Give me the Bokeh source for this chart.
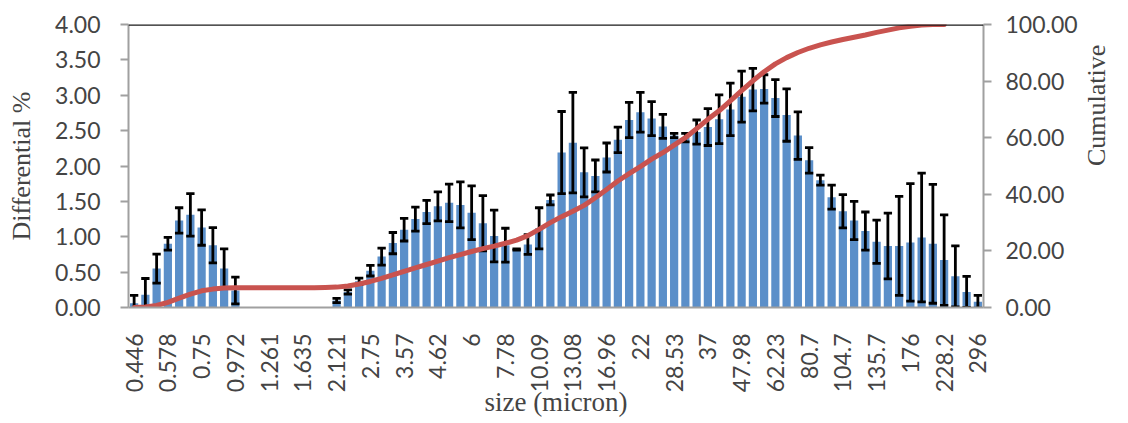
import math
from bokeh.plotting import figure
from bokeh.models import Range1d, LinearAxis, FixedTicker, NumeralTickFormatter, Span
from bokeh.embed import file_html
from bokeh.resources import INLINE

nan = float("nan")

sizes = ["0.446", "0.486", "0.53", "0.578", "0.63", "0.688", "0.75", "0.818", "0.891", "0.972",
         "1.06", "1.156", "1.261", "1.375", "1.499", "1.635", "1.783", "1.945", "2.121", "2.312",
         "2.523", "2.75", "3", "3.27", "3.57", "3.889", "4.241", "4.62", "5.04", "5.5",
         "6", "6.54", "7.13", "7.78", "8.48", "9.25", "10.09", "11", "12", "13.08",
         "14.27", "15.56", "16.96", "18.5", "20.17", "22", "23.99", "26.16", "28.53", "31.11",
         "33.93", "37", "40.35", "44", "47.98", "52.33", "57.06", "62.23", "67.86", "74",
         "80.7", "88", "95.96", "104.7", "114.1", "124.5", "135.7", "148", "161.4", "176",
         "191.9", "209.3", "228.2", "248.9", "271.4", "296"]

differential = [0.06, 0.18, 0.55, 0.90, 1.23, 1.31, 1.13, 0.88, 0.55, 0.24,
                nan, nan, nan, nan, nan, nan, nan, nan,
                0.10, 0.22, 0.37, 0.52, 0.72, 0.91, 1.10, 1.25,
                1.35, 1.43, 1.48, 1.45, 1.34, 1.19, 1.01, 0.88, 0.82, 0.89,
                1.12, 1.52, 2.19, 2.33, 1.91, 1.86, 2.12, 2.37, 2.65, 2.76,
                2.67, 2.56, 2.43, 2.40, 2.48, 2.55, 2.66, 2.80, 2.98, 3.08,
                3.09, 2.96, 2.72, 2.43, 2.08, 1.80, 1.56, 1.36, 1.23, 1.08,
                0.93, 0.87, 0.87, 0.92, 0.99, 0.90, 0.67, 0.44, 0.22, 0.08]

error = [0.11, 0.23, 0.205, 0.09, 0.18, 0.30, 0.25, 0.25, 0.28, 0.19,
         nan, nan, nan, nan, nan, nan, nan, nan,
         0.03, 0.03, 0.045, 0.075, 0.12, 0.15, 0.16, 0.17,
         0.165, 0.205, 0.265, 0.325, 0.38, 0.39, 0.365, 0.24, 0.01, 0.14,
         0.29, 0.07, 0.58, 0.71, 0.345, 0.225, 0.205, 0.18, 0.25, 0.28,
         0.24, 0.17, 0.03, 0.06, 0.17, 0.26, 0.345, 0.37, 0.36, 0.30,
         0.20, 0.26, 0.37, 0.335, 0.18, 0.07, 0.17, 0.235, 0.27, 0.27,
         0.305, 0.465, 0.70, 0.83, 0.91, 0.84, 0.64, 0.43, 0.22, 0.09]

cumulative = [0.0, 0.2, 0.7, 1.8, 3.3, 4.7, 5.9, 6.5, 6.9, 7.0,
              7.0, 7.0, 7.0, 7.0, 7.0, 7.0, 7.0, 7.1,
              7.2, 7.6, 8.3, 9.2, 10.3, 11.5, 12.8, 14.0,
              15.2, 16.4, 17.6, 18.7, 19.8, 20.8, 21.7, 22.7, 23.8, 25.4,
              27.6, 30.0, 32.1, 34.0, 36.1, 38.8, 41.7, 44.7, 47.3, 49.8,
              52.4, 54.7, 57.4, 60.0, 63.2, 66.5, 69.5, 73.0, 76.6, 80.1,
              83.3, 86.1, 88.3, 90.1, 91.6, 92.8, 93.8, 94.7, 95.5, 96.3,
              97.2, 98.0, 98.8, 99.4, 99.8, 100.0, 100.0, nan, nan, nan]

left_ticks = [0, 0.5, 1, 1.5, 2, 2.5, 3, 3.5, 4]
right_ticks = [0, 20, 40, 60, 80, 100]

idx = list(range(len(sizes)))
upper = [v + e for v, e in zip(differential, error)]
lower = [v - e for v, e in zip(differential, error)]

TICK_FONT = "Lato"
TITLE_FONT = "Liberation Serif"
AXIS_GRAY = "#A0A0A0"

p = figure(width=1128, height=423, output_backend="svg", toolbar_location=None,
           x_range=Range1d(-0.5, len(sizes) - 0.5), y_range=Range1d(0, 4),
           min_border_left=128, min_border_right=143, min_border_top=24, min_border_bottom=116)
p.xgrid.visible = False
p.ygrid.visible = False
p.outline_line_color = None
p.background_fill_color = "white"

p.extra_y_ranges = {"cum": Range1d(0, 100)}

# bars
p.vbar(x=idx, top=differential, width=0.73, fill_color="#5B8FC9", line_color=None)

# error bars
p.segment(x0=idx, y0=lower, x1=idx, y1=upper, line_color="black", line_width=2.8)
p.segment(x0=[i - 0.37 for i in idx], y0=upper, x1=[i + 0.37 for i in idx], y1=upper,
          line_color="black", line_width=2.8)
p.segment(x0=[i - 0.37 for i in idx], y0=lower, x1=[i + 0.37 for i in idx], y1=lower,
          line_color="black", line_width=2.8)

# cumulative line
p.line(x=idx, y=cumulative, y_range_name="cum", line_color="#C9534F", line_width=5,
       line_join="round", line_cap="round")

p.add_layout(Span(location=4, dimension="width", line_color="#1a1a1a", line_width=2.5))

# x axis
xa = p.xaxis[0]
xa.ticker = FixedTicker(ticks=idx[::3])
xa.major_label_overrides = {i: sizes[i] for i in idx[::3]}
xa.major_label_orientation = math.pi / 2
xa.major_tick_out = 0
xa.major_tick_in = 0
xa.minor_tick_out = 0
xa.minor_tick_in = 0
xa.axis_line_color = AXIS_GRAY
xa.axis_line_width = 2
xa.major_label_text_font = TICK_FONT
xa.major_label_text_font_size = "23px"
xa.major_label_standoff = 26
xa.axis_label = "size (micron)"
xa.axis_label_text_font = TITLE_FONT
xa.axis_label_text_font_size = "27px"
xa.axis_label_text_font_style = "normal"
xa.axis_label_standoff = -8

# left axis
ya = p.yaxis[0]
ya.ticker = FixedTicker(ticks=left_ticks)
ya.formatter = NumeralTickFormatter(format="0.00")
ya.major_tick_out = 8
ya.major_tick_in = 0
ya.minor_tick_out = 0
ya.minor_tick_in = 0
ya.axis_line_color = AXIS_GRAY
ya.axis_line_width = 2
ya.major_tick_line_color = AXIS_GRAY
ya.major_tick_line_width = 2
ya.major_label_text_font = TICK_FONT
ya.major_label_text_font_size = "23px"
ya.major_label_standoff = 20
ya.axis_label = "Differential %"
ya.axis_label_text_font = TITLE_FONT
ya.axis_label_text_font_size = "26px"
ya.axis_label_text_font_style = "normal"
ya.axis_label_standoff = 16

# right axis
ra = LinearAxis(y_range_name="cum")
ra.ticker = FixedTicker(ticks=right_ticks)
ra.formatter = NumeralTickFormatter(format="0.00")
ra.major_tick_out = 8
ra.major_tick_in = 0
ra.minor_tick_out = 0
ra.minor_tick_in = 0
ra.axis_line_color = AXIS_GRAY
ra.axis_line_width = 2
ra.major_tick_line_color = AXIS_GRAY
ra.major_tick_line_width = 2
ra.major_label_text_font = TICK_FONT
ra.major_label_text_font_size = "23px"
ra.major_label_standoff = 14
ra.axis_label = "Cumulative"
ra.axis_label_text_font = TITLE_FONT
ra.axis_label_text_font_size = "26px"
ra.axis_label_text_font_style = "normal"
ra.axis_label_standoff = 16
ra.axis_label_orientation = math.pi / 2
p.add_layout(ra, "right")

open("out.html", "w").write(file_html(p, INLINE))
